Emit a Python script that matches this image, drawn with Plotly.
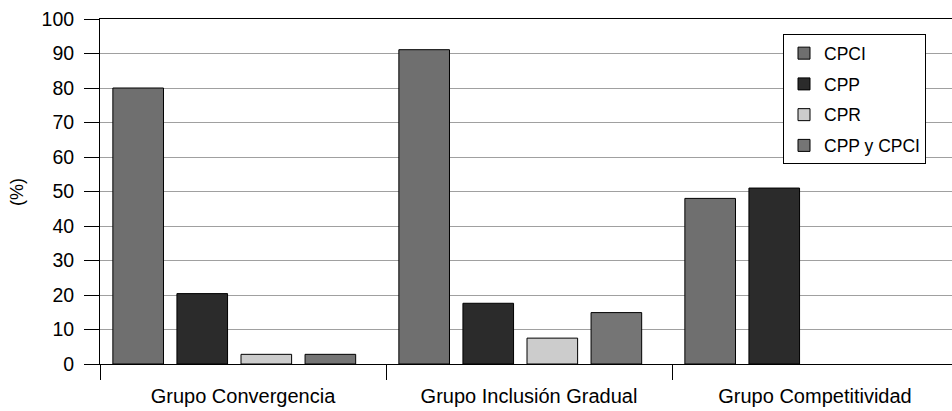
import plotly.graph_objects as go

categories = ["Grupo Convergencia", "Grupo Inclusión Gradual", "Grupo Competitividad"]
series_names = ["CPCI", "CPP", "CPR", "CPP y CPCI"]
cpci = [80.0, 91.1, 48.0]
cpp = [20.4, 17.6, 51.0]
cpr = [2.8, 7.5, None]
cpp_cpci = [2.8, 14.9, None]
y_ticks = list(range(0, 101, 10))

series_values = [cpci, cpp, cpr, cpp_cpci]
colors = ["#6f6f6f", "#2b2b2b", "#cccccc", "#757575"]
offsets = [-0.455, -0.231, -0.007, 0.217]
bar_width = 0.177

FONT = "Liberation Sans, Arial, Helvetica, sans-serif"

fig = go.Figure()
for i, (name, vals) in enumerate(zip(series_names, series_values)):
    fig.add_trace(go.Bar(
        name=name, x=categories, y=vals,
        marker=dict(color=colors[i], line=dict(color="#000000", width=1)),
        offset=offsets[i], width=bar_width,
        legendgroup=name,
    ))

fig.update_layout(
    width=952, height=411,
    margin=dict(l=100, r=0, t=19, b=47),
    paper_bgcolor="white", plot_bgcolor="white",
    font=dict(family=FONT, color="#000000"),
    barmode="overlay",
    showlegend=True,
    legend=dict(
        x=(783 - 100) / 852, y=(364.2 - 34) / 345.5,
        xanchor="left", yanchor="top",
        bgcolor="white", bordercolor="#000000", borderwidth=1,
        font=dict(size=17.5, family=FONT),
        tracegroupgap=5,
        traceorder="grouped",
        entrywidth=116, entrywidthmode="pixels",
    ),
    annotations=[dict(
        text="(%)", textangle=-90, xref="paper", yref="paper",
        x=(17 - 100) / 852, y=(364.2 - 192) / 345.5,
        xanchor="center", yanchor="middle", showarrow=False,
        font=dict(size=18, family=FONT),
    )],
)

fig.update_xaxes(
    type="category",
    range=[-0.5, -0.5 + 852 / 286],
    tickson="boundaries",
    ticks="outside", ticklen=15, tickwidth=1, tickcolor="#000000",
    showline=True, linecolor="#000000", linewidth=1, mirror=True,
    showgrid=False,
    tickfont=dict(size=20, family=FONT),
    ticklabelstandoff=14,
    automargin=False,
)
fig.update_yaxes(
    range=[0, 100],
    tickvals=y_ticks,
    ticks="outside", ticklen=15, tickwidth=1, tickcolor="#000000",
    showline=True, linecolor="#000000", linewidth=1,
    showgrid=True, gridcolor="#a0a0a0", gridwidth=1,
    zeroline=False,
    tickfont=dict(size=19.5, family=FONT),
    ticklabelstandoff=6,
    automargin=False,
)

fig.write_html(
    "out.html",
    config={"displayModeBar": False},
    post_script="document.body.style.margin='0';document.body.style.padding='0';",
)
